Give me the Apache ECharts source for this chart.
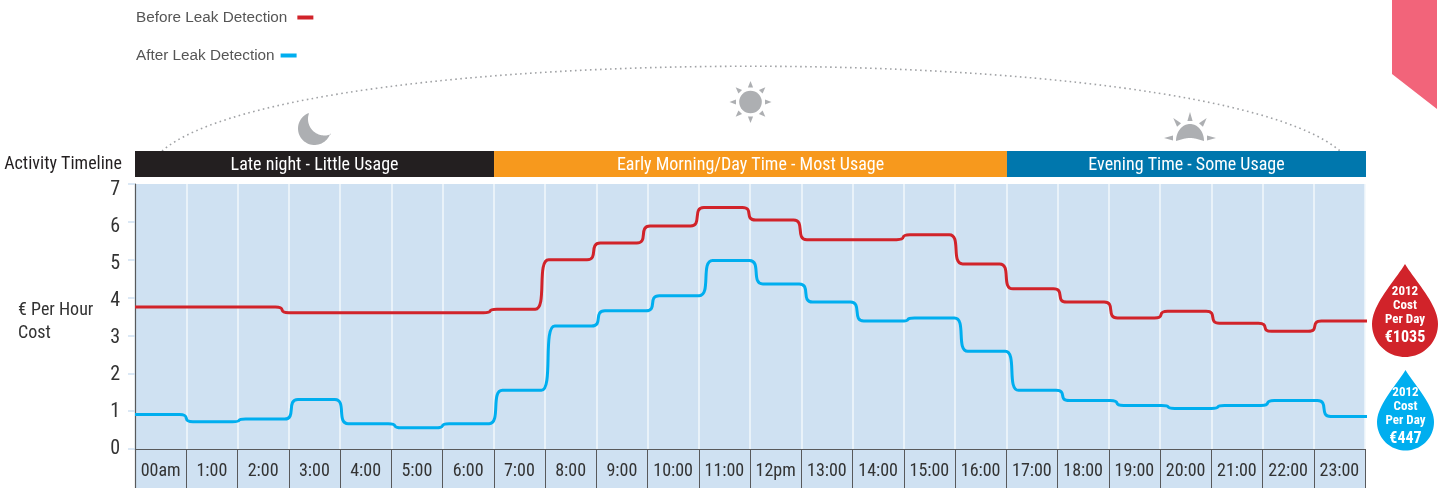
<!DOCTYPE html>
<html lang="en">
<head>
    <meta charset="UTF-8">
    <title>Leak Detection Cost</title>
    <script src="https://cdn.jsdelivr.net/npm/echarts@6/dist/echarts.min.js"></script>
    <style>
        html, body { margin: 0; padding: 0; background: #fff; }
    </style>
</head>
<body>
<div id="chart" style="width: 1442px;height: 488px"></div>
<script type="text/javascript">
    var hourLabels = ['00am', '1:00', '2:00', '3:00', '4:00', '5:00', '6:00', '7:00', '8:00', '9:00', '10:00', '11:00',
        '12pm', '13:00', '14:00', '15:00', '16:00', '17:00', '18:00', '19:00', '20:00', '21:00', '22:00', '23:00'];

    // cost level for each hour
    var beforeValues = [3.75, 3.75, 3.75, 3.6, 3.6, 3.6, 3.6, 3.69, 5.0, 5.44, 5.89, 6.38,
        6.05, 5.53, 5.53, 5.66, 4.89, 4.23, 3.88, 3.46, 3.64, 3.32, 3.11, 3.38];
    var afterValues = [0.91, 0.72, 0.79, 1.31, 0.67, 0.56, 0.67, 1.55, 3.25, 3.65, 4.05, 4.98,
        4.36, 3.88, 3.38, 3.46, 2.58, 1.55, 1.28, 1.15, 1.07, 1.15, 1.28, 0.86];

    // where on the hour axis each line steps to the next level
    var beforeSteps = [1, 2, 2.87, 4, 5, 6, 6.93, 7.94, 8.95, 9.92, 10.97, 11.98,
        12.98, 14, 14.99, 16.02, 17, 18.05, 19.04, 20.02, 21.03, 22.05, 23.02];
    var afterSteps = [1, 2.03, 3.05, 4.03, 5.07, 6, 7.04, 8.06, 9.04, 10.1, 11.14, 12.12,
        13.09, 14.09, 15.08, 16.12, 17.11, 18.1, 19.16, 20.16, 21.13, 22.1, 23.2];

    var phaseNames = ['Late night - Little Usage', 'Early Morning/Day Time - Most Usage', 'Evening Time - Some Usage'];
    var phaseHours = [7, 10, 7];
    var phaseColors = ['#231f20', '#f7991d', '#0077ad'];

    var panelColor = '#cfe1f2';
    var iconColor = '#adafb2';
    var narrow = '"Roboto Condensed", Roboto, sans-serif';

    // turn hour levels into points, the curve between two points makes the rounded step
    function stepPoints(values, steps) {
        var w = 0.13;
        var pts = [[0, values[0]]];
        for (var i = 0; i < steps.length; i++) {
            pts.push([steps[i] - w, values[i]]);
            pts.push([steps[i] + w, values[i + 1]]);
        }
        pts.push([24.2, values[values.length - 1]]);
        return pts;
    }

    // graphic has no free path type, so icon outlines are sampled into polygons
    function arcPoints(cx, cy, rx, ry, from, to) {
        var pts = [];
        var n = 40;
        for (var i = 0; i <= n; i++) {
            var a = (from + (to - from) * i / n) * Math.PI / 180;
            pts.push([cx + rx * Math.cos(a), cy + ry * Math.sin(a)]);
        }
        return pts;
    }

    function rayElements(cx, cy, inner, outer, half, angles) {
        var els = [];
        for (var i = 0; i < angles.length; i++) {
            var a = angles[i] * Math.PI / 180;
            var c = Math.cos(a), s = Math.sin(a);
            els.push({
                type: 'polygon',
                shape: {
                    points: [
                        [cx + c * outer, cy + s * outer],
                        [cx + c * inner - s * half, cy + s * inner + c * half],
                        [cx + c * inner + s * half, cy + s * inner - c * half]
                    ]
                },
                style: {fill: iconColor}
            });
        }
        return els;
    }

    function dropGraphic(cx, tipY, r, cy, color, big, textTop) {
        var pts = [[cx, tipY]];
        var n = 20;
        // right shoulder from the tip down to the circle
        for (var i = 1; i < n; i++) {
            var t = i / n, u = 1 - t;
            pts.push([
                cx + 3 * u * u * t * r * 0.3 + 3 * u * t * t * r + t * t * t * r,
                u * u * u * tipY + 3 * u * u * t * (tipY + r * 0.5) + 3 * u * t * t * (cy - r * 0.6) + t * t * t * cy
            ]);
        }
        pts = pts.concat(arcPoints(cx, cy, r, r, 0, 180));
        for (var j = n - 1; j >= 1; j--) {
            var t2 = j / n, u2 = 1 - t2;
            pts.push([
                cx - (3 * u2 * u2 * t2 * r * 0.3 + 3 * u2 * t2 * t2 * r + t2 * t2 * t2 * r),
                u2 * u2 * u2 * tipY + 3 * u2 * u2 * t2 * (tipY + r * 0.5) + 3 * u2 * t2 * t2 * (cy - r * 0.6) + t2 * t2 * t2 * cy
            ]);
        }
        function line(txt, y, font) {
            return {
                type: 'text', z: 11, x: cx, y: y,
                style: {text: txt, fill: '#fff', font: font, textAlign: 'center', textVerticalAlign: 'middle'}
            };
        }
        var small = 'bold 13px ' + narrow;
        return [
            {type: 'polygon', z: 10, shape: {points: pts}, style: {fill: color}},
            line('2012', textTop, small),
            line('Cost', textTop + 14, small),
            line('Per Day', textTop + 28, small),
            line(big, textTop + 46, 'bold 16px ' + narrow)
        ];
    }

    var myChart = echarts.init(document.getElementById('chart'));

    var graphics = [
        // pink corner tab
        {type: 'polygon', shape: {points: [[1392, 0], [1437, 0], [1437, 109], [1392, 74]]}, style: {fill: '#f2647a'}},
        // day arc
        {
            type: 'bezierCurve',
            shape: {x1: 162, y1: 151, cpx1: 293, cpy1: 38, cpx2: 1209, cpy2: 38, x2: 1340, y2: 151},
            style: {stroke: '#a0a2a5', lineWidth: 1.6, lineDash: [1.6, 3.4], fill: null}
        },
        // moon
        {
            type: 'polygon',
            shape: {points: arcPoints(314.5, 128.5, 16.5, 16.5, 251, 18).concat(arcPoints(324.5, 119, 16.5, 16.5, 66.6, 202.8))},
            style: {fill: iconColor}
        },
        // sun
        {type: 'circle', shape: {cx: 750.5, cy: 102, r: 11.3}, style: {fill: iconColor}},
        // evening sun
        {
            type: 'polygon',
            shape: {points: arcPoints(1190, 141, 14, 17, 180, 360).concat(arcPoints(1190, 147, 15, 9, 298, 242))},
            style: {fill: iconColor}
        },
        // y axis title
        {
            type: 'text', x: 18, y: 310,
            style: {text: '€ Per Hour', fill: '#333', font: '18px ' + narrow, textVerticalAlign: 'middle'}
        },
        {
            type: 'text', x: 18, y: 333,
            style: {text: 'Cost', fill: '#333', font: '18px ' + narrow, textVerticalAlign: 'middle'}
        }
    ];
    graphics = graphics.concat(rayElements(750.5, 102, 14.5, 21, 2.6, [0, 45, 90, 135, 180, 225, 270, 315]));
    graphics = graphics.concat(rayElements(1190, 138, 17, 26, 2.6, [180, 230, 270, 310, 0]));
    graphics = graphics.concat(dropGraphic(1405, 264, 33, 324, '#d1232a', '€1035', 292));
    graphics = graphics.concat(dropGraphic(1405.5, 370, 28.5, 422, '#00aeef', '€447', 393));

    var phaseSeries = [];
    for (var p = 0; p < phaseNames.length; p++) {
        phaseSeries.push({
            type: 'bar',
            name: phaseNames[p],
            stack: 'phase',
            xAxisIndex: 2,
            yAxisIndex: 2,
            barWidth: '100%',
            data: [phaseHours[p]],
            itemStyle: {color: phaseColors[p]},
            label: {
                show: true,
                position: 'inside',
                offset: [0, 1.5],
                formatter: phaseNames[p],
                color: '#fff',
                fontFamily: narrow,
                fontSize: 18
            }
        });
    }

    var option = {
        animation: false,
        textStyle: {fontFamily: narrow},
        legend: [
            {
                left: 131, top: 5, align: 'right', itemWidth: 16, itemHeight: 4, itemGap: 0,
                icon: 'rect',
                data: ['Before Leak Detection'],
                textStyle: {fontFamily: '"Liberation Sans", sans-serif', fontSize: 15.3, color: '#555', padding: [0, 5, 0, 0]}
            },
            {
                left: 131, top: 43, align: 'right', itemWidth: 16, itemHeight: 4, itemGap: 0,
                icon: 'rect',
                data: ['After Leak Detection'],
                textStyle: {fontFamily: '"Liberation Sans", sans-serif', fontSize: 15.3, color: '#555', padding: [0, 1, 0, 0]}
            }
        ],
        grid: [
            {left: 135, top: 184, width: 1230, height: 265, show: true, backgroundColor: panelColor, borderWidth: 0, outerBoundsMode: 'none'},
            {left: 135, top: 449, width: 1230, height: 39, show: true, backgroundColor: panelColor, borderWidth: 0, outerBoundsMode: 'none'},
            {left: 135, top: 151, width: 1231, height: 26, borderWidth: 0, outerBoundsMode: 'none'},
            // the printed numbers sit a little tighter than the ticks
            {left: 135, top: 189.5, width: 1230, height: 259.5, borderWidth: 0, outerBoundsMode: 'none'}
        ],
        xAxis: [
            {
                type: 'value', gridIndex: 0, min: 0, max: 24, interval: 1,
                axisLine: {show: false}, axisTick: {show: false}, axisLabel: {show: false},
                splitLine: {show: true, lineStyle: {color: '#f2f7fb', width: 1.5}}
            },
            {
                type: 'category', gridIndex: 1, position: 'top', data: hourLabels,
                axisLine: {show: true, onZero: false, lineStyle: {color: '#58595b', width: 1.2}},
                axisTick: {show: false},
                axisLabel: {inside: true, margin: 13, interval: 0, color: '#333', fontFamily: narrow, fontSize: 18},
                splitLine: {show: true, interval: 0, lineStyle: {color: '#58595b', width: 1}}
            },
            {
                type: 'value', gridIndex: 2, min: 0, max: 24,
                axisLine: {show: false}, axisTick: {show: false}, axisLabel: {show: false}, splitLine: {show: false}
            },
            {
                type: 'value', gridIndex: 3, min: 0, max: 24, show: false
            }
        ],
        yAxis: [
            {
                type: 'value', gridIndex: 0, min: 0, max: 7, interval: 1,
                axisLine: {show: true, lineStyle: {color: '#58595b', width: 1.2}},
                axisTick: {show: true, length: 7, lineStyle: {color: panelColor, width: 1.5}},
                axisLabel: {show: false},
                splitLine: {show: false}
            },
            {
                type: 'value', gridIndex: 1, min: 0, max: 1,
                axisLine: {show: true, lineStyle: {color: '#58595b', width: 1.2}},
                axisTick: {show: false}, axisLabel: {show: false}, splitLine: {show: false}
            },
            {
                type: 'category', gridIndex: 2, data: ['Activity Timeline'],
                axisLine: {show: false}, axisTick: {show: false},
                axisLabel: {margin: 13, color: '#231f20', fontFamily: narrow, fontSize: 18, padding: [3, 0, 0, 0]}
            },
            {
                type: 'value', gridIndex: 3, min: 0, max: 7, interval: 1,
                axisLine: {show: false}, axisTick: {show: false},
                axisLabel: {margin: 15, color: '#333', fontFamily: narrow, fontSize: 20},
                splitLine: {show: false}
            }
        ],
        graphic: graphics,
        series: [
            {
                type: 'line',
                name: 'Before Leak Detection',
                data: stepPoints(beforeValues, beforeSteps),
                smooth: 0.9,
                smoothMonotone: 'x',
                showSymbol: false,
                clip: false,
                itemStyle: {color: '#d1232a'},
                lineStyle: {color: '#d1232a', width: 3}
            },
            {
                type: 'line',
                name: 'After Leak Detection',
                data: stepPoints(afterValues, afterSteps),
                smooth: 0.9,
                smoothMonotone: 'x',
                showSymbol: false,
                clip: false,
                itemStyle: {color: '#00aeef'},
                lineStyle: {color: '#00aeef', width: 3}
            }
        ].concat(phaseSeries)
    };
    myChart.setOption(option);
</script>
</body>
</html>
